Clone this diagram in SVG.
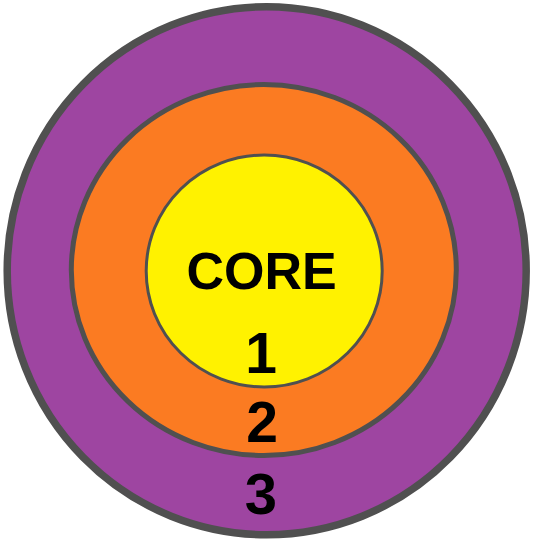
<svg xmlns="http://www.w3.org/2000/svg" width="535" height="544" viewBox="0 0 535 544">
<style>
.ring{stroke:#505050}
.lbl{font-family:"Liberation Sans",Arial,sans-serif;font-weight:bold;fill:#000;text-anchor:middle}
</style>
<rect width="535" height="544" fill="#fff"/>
<g id="ring3">
<ellipse class="ring" cx="266.7" cy="270.7" rx="259.5" ry="264" fill="#9E45A1" stroke-width="7.5"/>
<text class="lbl" x="261" y="514" font-size="58">3</text>
</g>
<g id="ring2">
<ellipse class="ring" cx="263.8" cy="270" rx="192.5" ry="185.5" fill="#FB7B22" stroke-width="5"/>
<text class="lbl" x="262" y="442" font-size="57">2</text>
</g>
<g id="core">
<ellipse class="ring" cx="264.2" cy="271" rx="118" ry="116" fill="#FFF200" stroke-width="3"/>
<text class="lbl" x="261.5" y="289" font-size="52">CORE</text>
<text class="lbl" x="261" y="373" font-size="57">1</text>
</g>
<g id="connectors"/>
</svg>
